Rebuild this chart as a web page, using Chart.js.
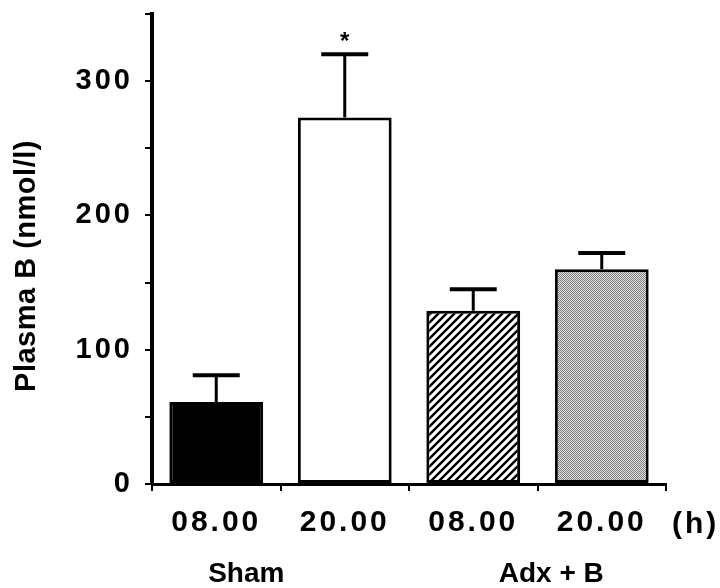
<!DOCTYPE html>
<html>
<head>
<meta charset="utf-8">
<script src="https://cdn.jsdelivr.net/npm/chart.js@4/dist/chart.umd.min.js"></script>
<style>
  html, body { margin: 0; padding: 0; background: #fff; }
  #wrap { width: 720px; height: 588px; position: relative; }
</style>
</head>
<body>
<div id="wrap"><canvas id="c" width="720" height="588"></canvas></div>
<script>
// ---- data ----
const categories = ['08.00', '20.00', '08.00', '20.00'];
const groupLabels = ['Sham', 'Adx + B'];
const meanValues = [61, 273, 129, 160];
const semValues = [20, 47, 16, 12];
const significance = ['', '*', '', ''];
const yTickStep = 50;
const yMax = 350;
const yLabelEvery = 100;
const yTitle = 'Plasma B (nmol/l)';
const unitLabel = '(h)';

const FONT = '"Liberation Sans", Arial, Helvetica, sans-serif';

function hatchPattern() {
  const c = document.createElement('canvas');
  c.width = 8; c.height = 8;
  const g = c.getContext('2d');
  g.fillStyle = '#fff'; g.fillRect(0, 0, 8, 8);
  g.strokeStyle = '#000'; g.lineWidth = 2.4; g.lineCap = 'square';
  g.beginPath();
  g.moveTo(-2, 10); g.lineTo(10, -2);
  g.moveTo(-6, 6); g.lineTo(6, -6);
  g.moveTo(2, 14); g.lineTo(14, 2);
  g.stroke();
  return g.createPattern(c, 'repeat');
}
function stipplePattern() {
  const c = document.createElement('canvas');
  c.width = 2; c.height = 2;
  const g = c.getContext('2d');
  g.fillStyle = '#e4e4e4'; g.fillRect(0, 0, 2, 2);
  g.fillStyle = '#7a7a7a'; g.fillRect(0, 0, 1, 1); g.fillRect(1, 1, 1, 1);
  return g.createPattern(c, 'repeat');
}

const fills = ['#000000', '#ffffff', hatchPattern(), stipplePattern()];

const spacingPlugin = {
  id: 'spacing',
  beforeLayout(chart) { chart.ctx.letterSpacing = '3px'; },
  beforeDraw(chart) { chart.ctx.letterSpacing = '3px'; }
};

const extrasPlugin = {
  id: 'extras',
  afterDatasetsDraw(chart) {
    const ctx = chart.ctx;
    const x = chart.scales.x, y = chart.scales.y;
    const meta = chart.getDatasetMeta(0);
    ctx.save();
    ctx.letterSpacing = '0px';
    ctx.strokeStyle = '#000';
    ctx.fillStyle = '#000';
    meta.data.forEach((bar, i) => {
      const cx = bar.x;
      const top = y.getPixelForValue(meanValues[i]);
      const capY = y.getPixelForValue(meanValues[i] + semValues[i]);
      ctx.lineWidth = 3;
      ctx.beginPath();
      ctx.moveTo(cx, top);
      ctx.lineTo(cx, capY);
      ctx.stroke();
      ctx.lineWidth = 4;
      ctx.beginPath();
      ctx.moveTo(cx - 23.5, capY);
      ctx.lineTo(cx + 23.5, capY);
      ctx.stroke();
      if (significance[i]) {
        ctx.font = 'bold 24px ' + FONT;
        ctx.textAlign = 'center';
        ctx.textBaseline = 'middle';
        ctx.fillText(significance[i], cx, capY - 12);
      }
    });
    ctx.restore();
  },
  afterDraw(chart) {
    const ctx = chart.ctx;
    const x = chart.scales.x;
    ctx.save();
    ctx.fillStyle = '#000';
    ctx.letterSpacing = '0px';
    ctx.font = 'bold 28px ' + FONT;
    ctx.textAlign = 'center';
    ctx.textBaseline = 'alphabetic';
    ctx.fillText(groupLabels[0], x.getPixelForValue(0) + 30, 582);
    ctx.fillText(groupLabels[1], x.getPixelForValue(2) + 78, 582);
    // unit
    ctx.font = 'bold 30px ' + FONT;
    ctx.letterSpacing = '3px';
    ctx.textAlign = 'left';
    ctx.fillText(unitLabel, x.right + 6, 533);
    // y title
    ctx.letterSpacing = '0.5px';
    ctx.font = 'bold 29px ' + FONT;
    ctx.translate(35, 266);
    ctx.rotate(-Math.PI / 2);
    ctx.textAlign = 'center';
    ctx.fillText(yTitle, 0, 0);
    ctx.restore();
  }
};

new Chart(document.getElementById('c'), {
  type: 'bar',
  data: {
    labels: categories,
    datasets: [{
      data: meanValues,
      backgroundColor: fills,
      borderColor: '#000',
      borderWidth: 3,
      borderSkipped: false,
      categoryPercentage: 1.0,
      barPercentage: 0.73
    }]
  },
  options: {
    responsive: false,
    animation: false,
    devicePixelRatio: 1,
    layout: { padding: { top: 14, right: 54, left: 0, bottom: 0 } },
    plugins: { legend: { display: false }, tooltip: { enabled: false } },
    scales: {
      x: {
        grid: { offset: true, drawOnChartArea: false, drawTicks: true, tickLength: 7, color: '#000', lineWidth: 2 },
        border: { display: true, color: '#000', width: 3 },
        ticks: { color: '#000', font: { family: FONT, size: 30, weight: 'bold' }, padding: 14, maxRotation: 0 },
        afterFit(s) { s.height = 104; s.paddingLeft = 0; s.paddingRight = 0; }
      },
      y: {
        min: 0, max: yMax,
        grid: { drawOnChartArea: false, drawTicks: true, tickLength: 7, color: '#000', lineWidth: 2 },
        border: { display: true, color: '#000', width: 4 },
        ticks: {
          stepSize: yTickStep,
          color: '#000',
          font: { family: FONT, size: 29, weight: 'bold' },
          padding: 12,
          callback: v => (v % yLabelEvery === 0 && v < yMax) ? String(v) : ''
        },
        afterFit(s) { s.width = 152; s.paddingTop = 0; s.paddingBottom = 0; }
      }
    }
  },
  plugins: [spacingPlugin, extrasPlugin]
});
</script>
</body>
</html>
